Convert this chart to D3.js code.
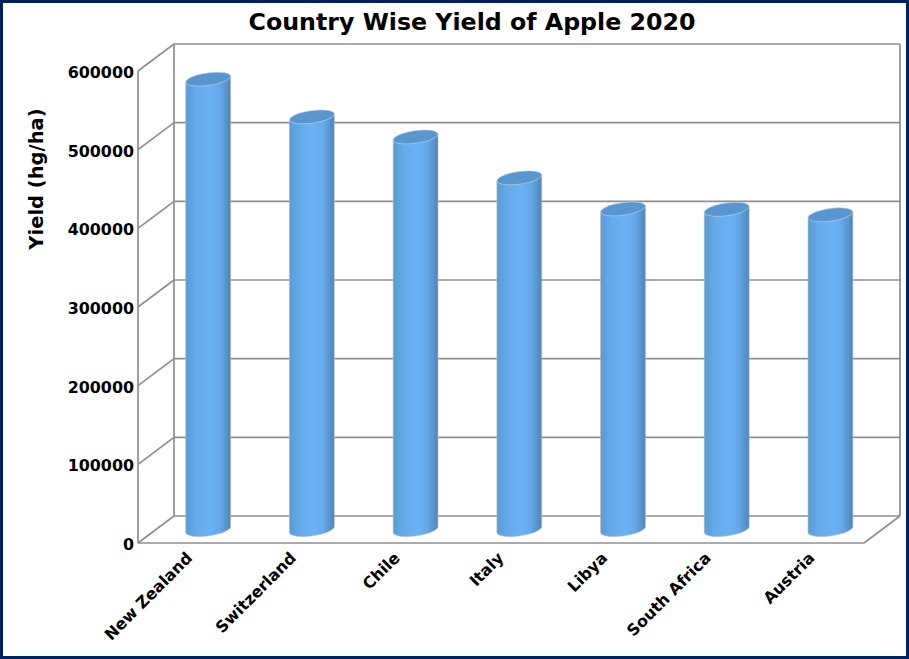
<!DOCTYPE html>
<html><head><meta charset="utf-8">
<script src="https://cdn.jsdelivr.net/npm/d3@7/dist/d3.min.js"></script>
<style>html,body{margin:0;padding:0;background:#fff}svg{display:block}text{font-family:"DejaVu Sans",sans-serif;font-weight:bold;fill:#000}</style>
</head><body><svg id="c" width="909" height="659"></svg>
<script>
const categories=["New Zealand","Switzerland","Chile","Italy","Libya","South Africa","Austria"];
const yields=[572500,524500,499000,447000,407500,407000,400000];
const yTicks=[0,100000,200000,300000,400000,500000,600000];
const chartTitle="Country Wise Yield of Apple 2020";
const yTitle="Yield (hg/ha)";

const svg=d3.select("#c");
svg.append("rect").attr("x",1.5).attr("y",1.5).attr("width",906).attr("height",656).attr("fill","#fff").attr("stroke","#002060").attr("stroke-width",3);

const pLeft=138,pRight=864,pBottom=543,pTop=71,dx=36,dy=-27;
const x=d3.scaleBand().domain(categories).range([pLeft,pRight]);
const y=d3.scaleLinear().domain([0,600000]).range([pBottom,pTop]);
const grid="#8f8f8f";

const defs=svg.append("defs");
const g=defs.append("linearGradient").attr("id","cyl");
[[0,"#5c9bd5"],[0.12,"#5fa2dd"],[0.25,"#65abeb"],[0.55,"#69b2f6"],[0.75,"#65aaea"],[0.88,"#5b97d0"],[1,"#5284b6"]]
 .forEach(s=>g.append("stop").attr("offset",s[0]).attr("stop-color",s[1]));

const frame=svg.append("g").attr("fill","none").attr("stroke",grid).attr("stroke-width",1.7);
yTicks.forEach(t=>{
  frame.append("line").attr("x1",pLeft+dx).attr("x2",pRight+dx).attr("y1",y(t)+dy).attr("y2",y(t)+dy);
  frame.append("line").attr("x1",pLeft).attr("x2",pLeft+dx).attr("y1",y(t)).attr("y2",y(t)+dy);
});
frame.append("line").attr("x1",pLeft).attr("x2",pLeft).attr("y1",pBottom).attr("y2",pTop);
frame.append("line").attr("x1",pLeft+dx).attr("x2",pLeft+dx).attr("y1",pBottom+dy).attr("y2",pTop+dy);
frame.append("line").attr("x1",pRight+dx).attr("x2",pRight+dx).attr("y1",pBottom+dy).attr("y2",pTop+dy);
frame.append("line").attr("x1",pLeft).attr("x2",pRight).attr("y1",pBottom).attr("y2",pBottom);
frame.append("line").attr("x1",pRight).attr("x2",pRight+dx).attr("y1",pBottom).attr("y2",pBottom+dy);

const rx=22.6,ry=6.3,tilt=-8,tx=rx*Math.cos(tilt*Math.PI/180),ty=rx*Math.sin(tilt*Math.PI/180);
const bars=svg.append("g").selectAll("g").data(categories).join("g");
bars.each(function(c,i){
  const cx=x(c)+x.bandwidth()/2+dx/2+0.3, y0=y(0)+dy/2, y1=y(yields[i])+dy/2, s=d3.select(this);
  s.append("path").attr("fill","url(#cyl)").attr("stroke","#a9b4bf").attr("stroke-width",0.6)
   .attr("d",`M${cx-tx},${y1-ty}L${cx-tx},${y0-ty}A${rx},${ry} ${tilt} 0 0 ${cx+tx},${y0+ty}L${cx+tx},${y1+ty}Z`);
  s.append("ellipse").attr("rx",rx).attr("ry",ry).attr("fill","#5996cf").attr("stroke","#c4d6e8").attr("stroke-width",0.6)
   .attr("transform",`translate(${cx},${y1}) rotate(${tilt})`);
});

svg.append("g").selectAll("text").data(yTicks).join("text")
  .attr("x",134).attr("y",d=>y(d)+7).attr("text-anchor","end").attr("font-size",15.9).text(d=>d);

svg.append("g").selectAll("text").data(categories).join("text")
  .attr("text-anchor","end").attr("font-size",15.9)
  .attr("transform",d=>`translate(${x(d)+x.bandwidth()/2+3.5},${559}) rotate(-45)`).text(d=>d);

svg.append("text").attr("x",472).attr("y",29.5).attr("text-anchor","middle").attr("font-size",23.7).text(chartTitle);
svg.append("text").attr("transform","translate(43,179) rotate(-90)").attr("text-anchor","middle").attr("font-size",19.5).text(yTitle);
</script></body></html>
